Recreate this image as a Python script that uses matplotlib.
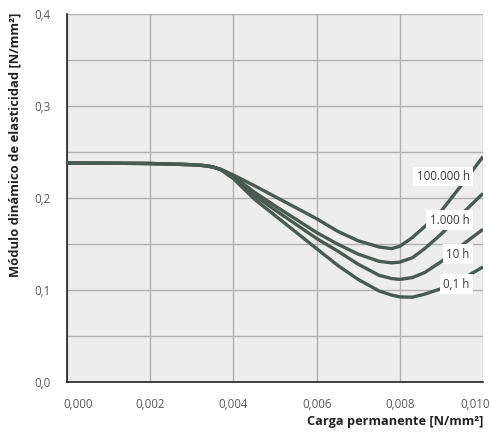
import matplotlib
matplotlib.use("Agg")
import matplotlib.pyplot as plt
import matplotlib.transforms as mtransforms
from matplotlib.ticker import MultipleLocator, FuncFormatter, NullFormatter

plt.rcParams['font.family'] = ['Open Sans', 'DejaVu Sans']

x = [0.0, 0.001, 0.002, 0.003, 0.0033, 0.0035, 0.0037, 0.0040, 0.0045, 0.0050, 0.0055,
     0.0060, 0.0065, 0.0070, 0.0075, 0.0078, 0.0080, 0.0083, 0.0086, 0.0090, 0.0095, 0.0100]

h100000 = [0.2380, 0.2378, 0.2375, 0.2362, 0.2352, 0.2338, 0.2312, 0.2250, 0.2135, 0.2015, 0.1895,
           0.1775, 0.1640, 0.1535, 0.1468, 0.1450, 0.1475, 0.1570, 0.1690, 0.1860, 0.2150, 0.2450]
h1000 = [0.2380, 0.2378, 0.2375, 0.2362, 0.2352, 0.2338, 0.2310, 0.2237, 0.2065, 0.1915, 0.1770,
         0.1625, 0.1500, 0.1390, 0.1312, 0.1295, 0.1303, 0.1350, 0.1450, 0.1610, 0.1830, 0.2050]
h10 = [0.2380, 0.2378, 0.2375, 0.2362, 0.2352, 0.2338, 0.2308, 0.2225, 0.2030, 0.1870, 0.1715,
       0.1560, 0.1425, 0.1280, 0.1160, 0.1125, 0.1115, 0.1135, 0.1190, 0.1310, 0.1490, 0.1660]
h01 = [0.2380, 0.2378, 0.2375, 0.2362, 0.2352, 0.2338, 0.2306, 0.2210, 0.1990, 0.1810, 0.1630,
       0.1450, 0.1270, 0.1115, 0.0990, 0.0945, 0.0925, 0.0922, 0.0955, 0.1015, 0.1120, 0.1250]

series = [h100000, h1000, h10, h01]
labels = ["100.000 h", "1.000 h", "10 h", "0,1 h"]
label_y = [0.2234, 0.1760, 0.1390, 0.1065]

xticks = [0.000, 0.002, 0.004, 0.006, 0.008, 0.010]
xtick_labels = ["0,000", "0,002", "0,004", "0,006", "0,008", "0,010"]

fig = plt.figure(figsize=(4.91, 4.32), dpi=100)
ax = fig.add_axes([67/491, 50/432, 416/491, 368/432])
ax.set_facecolor('#ededed')

line_color = '#4a5a52'
for s in series:
    ax.plot(x, s, color=line_color, lw=2.4, solid_capstyle='butt', solid_joinstyle='round', zorder=3)

for lab, ly in zip(labels, label_y):
    ax.text(0.00968, ly, lab, ha='right', va='center', fontsize=8.3, color='#3a3a3a', zorder=4,
            bbox=dict(boxstyle='square,pad=0.3', fc='white', ec='none'))

ax.set_xlim(0, 0.010)
ax.set_ylim(0, 0.4)
ax.set_xticks(xticks)
ax.xaxis.set_major_formatter(NullFormatter())
ax.yaxis.set_major_locator(MultipleLocator(0.1))
ax.yaxis.set_minor_locator(MultipleLocator(0.05))
ax.yaxis.set_major_formatter(FuncFormatter(lambda v, p: f"{v:.1f}".replace('.', ',')))
ax.grid(True, which='both', color='#b0b0b0', lw=1.0, zorder=0)
ax.set_axisbelow(True)
ax.tick_params(which='both', length=0, labelsize=8.3, labelcolor='#5a5a5a')
ax.tick_params(axis='y', pad=12)

# x tick labels (first and last nudged inward as in the reference)
base = mtransforms.blended_transform_factory(ax.transData, ax.transAxes)
n = len(xticks)
for i, (xv, txt) in enumerate(zip(xticks, xtick_labels)):
    dx = 0
    if i == 0:
        dx = 11
    elif i == n - 1:
        dx = -8
    tr = base + mtransforms.ScaledTranslation(dx / 100, -22 / 100, fig.dpi_scale_trans)
    ax.text(xv, 0, txt, transform=tr, ha='center', va='center', fontsize=8.3,
            color='#5a5a5a', clip_on=False)

for side in ['top', 'right']:
    ax.spines[side].set_visible(False)
for side in ['left', 'bottom']:
    ax.spines[side].set_color('#222222')
    ax.spines[side].set_linewidth(1.2)

fig.text(483/491, 1 - 422/432, "Carga permanente [N/mm²]", ha='right', va='center',
         fontsize=9.2, fontweight='bold', color='#222222')
fig.text(15/491, 1 - 13/432, "Módulo dinámico de elasticidad [N/mm²]", ha='center', va='top',
         rotation=90, fontsize=9.4, fontweight='bold', color='#222222')

fig.savefig('out.png', dpi=100)
